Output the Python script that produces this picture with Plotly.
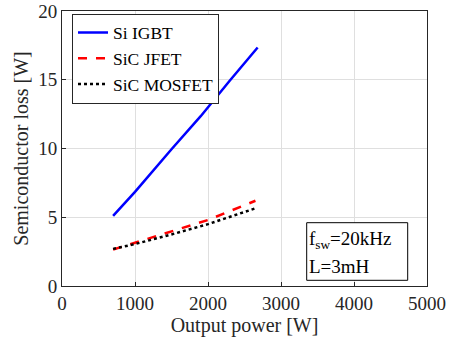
import plotly.graph_objects as go

power_igbt = [700, 1000, 1500, 1900, 2300, 2680]
loss_igbt = [5.1, 6.85, 9.95, 12.35, 14.95, 17.35]
power_sic = [700, 1000, 1500, 2000, 2650]
loss_jfet = [2.65, 3.15, 3.95, 4.8, 6.2]
loss_mosfet = [2.7, 3.05, 3.75, 4.5, 5.65]

FONT = "Liberation Serif, Times New Roman, serif"
fig = go.Figure()
fig.add_trace(go.Scatter(x=power_igbt, y=loss_igbt, mode="lines", name="Si IGBT",
                         line=dict(color="#0000ff", width=2.5)))
fig.add_trace(go.Scatter(x=power_sic, y=loss_jfet, mode="lines", name="SiC JFET",
                         line=dict(color="#ff0000", width=2.5, dash="dash")))
fig.add_trace(go.Scatter(x=power_sic, y=loss_mosfet, mode="lines", name="SiC MOSFET",
                         line=dict(color="#000000", width=2.5, dash="dot")))

axis_common = dict(showline=True, linecolor="#262626", linewidth=1, mirror=True,
                   ticks="inside", ticklen=4, tickcolor="#262626", automargin=False,
                   showgrid=True, gridcolor="#dfdfdf", gridwidth=1, zeroline=False,
                   tickfont=dict(family=FONT, size=19, color="#262626"))
fig.update_xaxes(range=[0, 5000], tickvals=[0, 1000, 2000, 3000, 4000, 5000],
                 title=dict(text="Output power [W]", font=dict(family=FONT, size=20, color="#262626"), standoff=2),
                 **axis_common)
fig.update_yaxes(range=[0, 20], tickvals=[0, 5, 10, 15, 20],
                 title=dict(text="Semiconductor loss [W]", font=dict(family=FONT, size=20, color="#262626"), standoff=4),
                 **axis_common)

fig.add_shape(type="rect", xref="paper", yref="paper",
              x0=(306.7 - 62) / 365, x1=(407.7 - 62) / 365,
              y0=(286 - 280.3) / 275, y1=(286 - 222.7) / 275,
              line=dict(color="black", width=1), fillcolor="white", layer="above")
fig.add_annotation(xref="paper", yref="paper", x=(307 - 62) / 365, y=(286 - 240) / 275,
                   text="f<sub>sw</sub>=20kHz", showarrow=False, xanchor="left", yanchor="middle",
                   font=dict(family=FONT, size=19, color="black"))
fig.add_annotation(xref="paper", yref="paper", x=(307 - 62) / 365, y=(286 - 266) / 275,
                   text="L=3mH", showarrow=False, xanchor="left", yanchor="middle",
                   font=dict(family=FONT, size=19, color="black"))

fig.update_layout(
    width=454, height=345,
    font=dict(family=FONT),
    margin=dict(l=62, r=27, t=11, b=59, autoexpand=False),
    plot_bgcolor="white", paper_bgcolor="white",
    legend=dict(x=(72 - 62) / 365, y=(286 - 13.5) / 275, xanchor="left", yanchor="top",
                bordercolor="#262626", borderwidth=1, bgcolor="white",
                font=dict(family=FONT, size=17.5, color="black"),
                tracegroupgap=0, itemwidth=30),
    showlegend=True,
)
fig.write_html("out.html")
